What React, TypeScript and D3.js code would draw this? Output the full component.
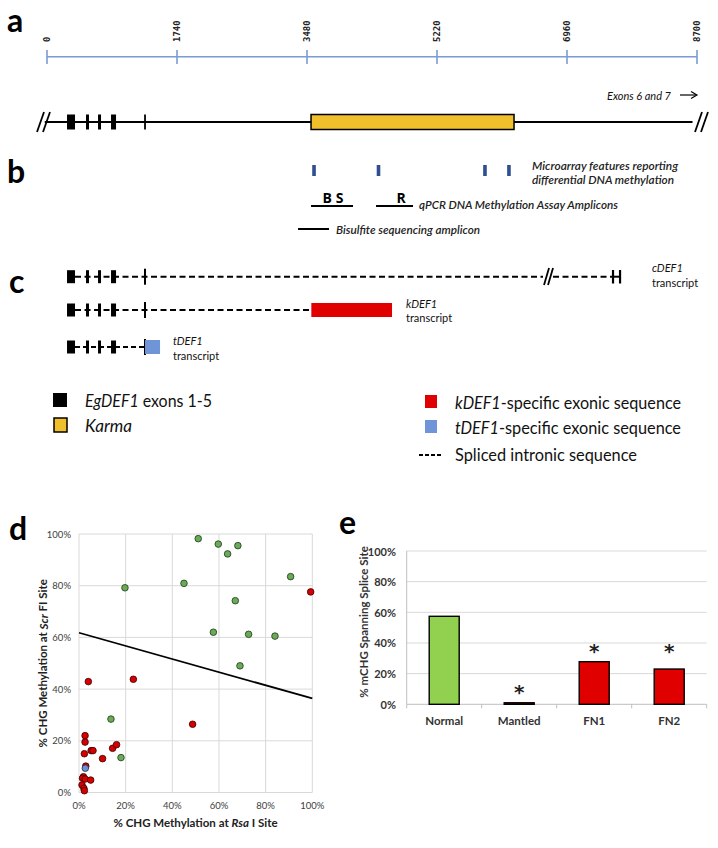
import React from "react";
import * as d3 from "d3";

// ---------- Panel a/b/c data (positions in bp) ----------
const axisTicks = [0, 1740, 3480, 5220, 6960, 8700];
const exonStarts = [268, 522, 683, 857];
const exonEnds = [375, 562, 723, 924];
const exon5Pos = 1312;
const geneSpan = [-30, 8640];
const karmaSpan = [3534, 6251];
const microarrayFeatures = [3574, 4437, 5862, 6183];
const qpcrLabels = ["B S", "R"];
const qpcrStarts = [3534, 4404];
const qpcrEnds = [4096, 4899];
const bisulfiteSpan = [3360, 3775];
const cdefBreak = [6639, 6773];
const cdefEnd = 7562;
const cdefExons67 = [7576, 7670];
const kdefSpecific = [3538, 4618];
const tdefSpecific = [1312, 1513];

// ---------- Panel d data (% CHG methylation) ----------
const greenPoints: [number, number][] = [
  [51.1, 98.2], [59.7, 96.1], [63.7, 92.3], [68.1, 95.5], [19.7, 79.2], [45, 80.9],
  [90.7, 83.5], [67, 74.2], [57.6, 62], [72.7, 61.2], [84, 60.5], [69, 49],
  [13.7, 28.4], [18, 13.5],
];
const redPoints: [number, number][] = [
  [99.3, 77.6], [4, 42.9], [23.3, 43.8], [48.7, 26.4], [2.6, 22], [2.6, 19.5],
  [2.3, 15], [5.2, 16.2], [6, 16.2], [10.1, 13.1], [14.4, 17.1], [16.1, 18.5],
  [2.9, 10.2], [1.9, 6.1], [1.5, 5.5], [2.6, 5.2], [5, 4.8], [1.3, 2.9], [2.1, 1.6], [2.3, 0.7],
];
const bluePoints: [number, number][] = [[2.7, 9.4]];
const trendLine: [number, number][] = [[0, 61.8], [100, 36.4]];
const scatterTicks = [0, 20, 40, 60, 80, 100];

// ---------- Panel e data ----------
const barCategories = ["Normal", "Mantled", "FN1", "FN2"];
const barValues = [57.4, 1, 27.8, 23];
const barColors = ["#92d050", "#e00000", "#e00000", "#e00000"];
const asteriskY = [null, 8, 35, 35];
const barTicks = [0, 20, 40, 60, 80, 100];

const SANS = "Lato, 'Open Sans', sans-serif";

function PanelLetter({ x, y, t }: { x: number; y: number; t: string }) {
  return (
    <text x={x} y={y} fontFamily="Lato, 'Open Sans', sans-serif" fontWeight="bold" fontSize={32} fill="#000">
      {t}
    </text>
  );
}

function ExonRow({ y, xs, endX, dash }: { y: number; xs: d3.ScaleLinear<number, number>; endX: number; dash: string }) {
  const h = 13;
  return (
    <g>
      <line x1={xs(exonEnds[0])} x2={endX} y1={y} y2={y} stroke="#000" strokeWidth={2} strokeDasharray={dash} />
      {exonStarts.map((s, i) => (
        <rect key={i} x={xs(s)} y={y - h / 2} width={xs(exonEnds[i]) - xs(s)} height={h} fill="#000" />
      ))}
      <line x1={xs(exon5Pos)} x2={xs(exon5Pos)} y1={y - 8} y2={y + 8} stroke="#000" strokeWidth={2} />
    </g>
  );
}

export default function App() {
  const xs = d3.scaleLinear().domain([0, 8700]).range([47, 697]);

  // scatter scales
  const sx = d3.scaleLinear().domain([0, 100]).range([79, 312.3]);
  const sy = d3.scaleLinear().domain([0, 100]).range([792.5, 534]);
  const trendPath = d3.line<[number, number]>().x((d) => sx(d[0])).y((d) => sy(d[1]))(trendLine) || "";

  // bar scales
  const bx = d3.scaleBand<string>().domain(barCategories).range([406.7, 706.7]).padding(0);
  const by = d3.scaleLinear().domain([0, 100]).range([704.3, 551]);
  const barW = bx.bandwidth() * 0.4;

  const geneY = 122;
  const dash = "6 3.5";

  return (
    <svg width={718} height={848} style={{ position: "absolute", left: 0, top: 0, background: "#fff" }}>
      <rect x={0} y={0} width={718} height={848} fill="#fff" />

      {/* ---------------- Panel a ---------------- */}
      <PanelLetter x={7} y={32} t="a" />
      <line x1={xs(0)} x2={xs(8700)} y1={56.7} y2={56.7} stroke="#7a9bd6" strokeWidth={1.6} />
      {axisTicks.map((t) => (
        <g key={t}>
          <line x1={xs(t)} x2={xs(t)} y1={50} y2={64} stroke="#7a9bd6" strokeWidth={1.6} />
          <text
            transform={`translate(${xs(t)},42) rotate(-90)`}
            dominantBaseline="central"
            fontFamily="'DejaVu Sans Mono', monospace"
            fontWeight="bold"
            fontSize={9}
            fill="#222"
          >
            {t}
          </text>
        </g>
      ))}
      <text x={607} y={95} dominantBaseline="central" fontFamily={SANS} fontStyle="italic" fontSize={11} fill="#111">
        Exons 6 and 7
      </text>
      <line x1={680} x2={696} y1={95} y2={95} stroke="#000" strokeWidth={1.2} />
      <path d="M691,91.5 L697,95 L691,98.5" fill="none" stroke="#000" strokeWidth={1.2} />

      <line x1={xs(geneSpan[0])} x2={xs(geneSpan[1])} y1={geneY} y2={geneY} stroke="#000" strokeWidth={2} />
      {[37, 43].map((x) => (
        <line key={x} x1={x} y1={132} x2={x + 7} y2={112} stroke="#000" strokeWidth={1.8} />
      ))}
      {[695, 701].map((x) => (
        <line key={x} x1={x} y1={132} x2={x + 7} y2={112} stroke="#000" strokeWidth={1.8} />
      ))}
      {exonStarts.map((s, i) => (
        <rect key={i} x={xs(s)} y={geneY - 7.5} width={xs(exonEnds[i]) - xs(s)} height={15} fill="#000" />
      ))}
      <line x1={xs(exon5Pos)} x2={xs(exon5Pos)} y1={geneY - 7.5} y2={geneY + 7.5} stroke="#000" strokeWidth={1.8} />
      <rect
        x={xs(karmaSpan[0])}
        y={geneY - 7.5}
        width={xs(karmaSpan[1]) - xs(karmaSpan[0])}
        height={15}
        fill="#f0c02c"
        stroke="#000"
        strokeWidth={1.5}
      />

      {/* ---------------- Panel b ---------------- */}
      <PanelLetter x={7} y={183} t="b" />
      {microarrayFeatures.map((p) => (
        <rect key={p} x={xs(p) - 1.8} y={165} width={3.6} height={11} fill="#2f4f8f" />
      ))}
      <text x={532} y={165} dominantBaseline="central" fontFamily={SANS} fontStyle="italic" fontWeight="600" fontSize={11.5} fill="#222" textLength={146} lengthAdjust="spacingAndGlyphs">
        Microarray features reporting
      </text>
      <text x={532} y={179} dominantBaseline="central" fontFamily={SANS} fontStyle="italic" fontWeight="600" fontSize={11.5} fill="#222" textLength={142} lengthAdjust="spacingAndGlyphs">
        differential DNA methylation
      </text>
      {qpcrLabels.map((lab, i) => (
        <g key={lab}>
          <line x1={xs(qpcrStarts[i])} x2={xs(qpcrEnds[i])} y1={206} y2={206} stroke="#000" strokeWidth={2} />
          <text
            x={i === 0 ? 333 : 401}
            y={203}
            textAnchor="middle"
            fontFamily="'Open Sans', sans-serif"
            fontWeight="bold"
            fontSize={14}
            fill="#000"
          >
            {lab}
          </text>
        </g>
      ))}
      <text x={419} y={204} dominantBaseline="central" fontFamily={SANS} fontStyle="italic" fontWeight="600" fontSize={11.5} fill="#222" textLength={199} lengthAdjust="spacingAndGlyphs">
        qPCR DNA Methylation Assay Amplicons
      </text>
      <line x1={xs(bisulfiteSpan[0])} x2={xs(bisulfiteSpan[1])} y1={229} y2={229} stroke="#000" strokeWidth={2} />
      <text x={336} y={229} dominantBaseline="central" fontFamily={SANS} fontStyle="italic" fontWeight="600" fontSize={11.5} fill="#222" textLength={144} lengthAdjust="spacingAndGlyphs">
        Bisulfite sequencing amplicon
      </text>

      {/* ---------------- Panel c ---------------- */}
      <PanelLetter x={9} y={293} t="c" />
      {/* cDEF1 */}
      <ExonRow y={276.7} xs={xs} endX={xs(cdefBreak[0])} dash={dash} />
      <line x1={xs(cdefBreak[1])} x2={xs(cdefEnd)} y1={276.7} y2={276.7} stroke="#000" strokeWidth={2} strokeDasharray={dash} />
      {[xs(cdefBreak[0]) + 1, xs(cdefBreak[0]) + 5].map((x) => (
        <line key={x} x1={x} y1={285} x2={x + 5} y2={268} stroke="#000" strokeWidth={1.8} />
      ))}
      <line x1={xs(cdefExons67[0])} x2={xs(cdefExons67[1])} y1={276.7} y2={276.7} stroke="#000" strokeWidth={2} />
      {cdefExons67.map((p) => (
        <line key={p} x1={xs(p)} x2={xs(p)} y1={270} y2={283.5} stroke="#000" strokeWidth={2.2} />
      ))}
      <text x={652} y={267} dominantBaseline="central" fontFamily={SANS} fontStyle="italic" fontSize={11} fill="#111">
        cDEF1
      </text>
      <text x={652} y={282} dominantBaseline="central" fontFamily={SANS} fontSize={11} fill="#111">
        transcript
      </text>

      {/* kDEF1 */}
      <ExonRow y={310} xs={xs} endX={xs(kdefSpecific[0])} dash={dash} />
      <rect x={xs(kdefSpecific[0])} y={303} width={xs(kdefSpecific[1]) - xs(kdefSpecific[0])} height={14} fill="#e00000" />
      <text x={406} y={303} dominantBaseline="central" fontFamily={SANS} fontStyle="italic" fontSize={11} fill="#111">
        kDEF1
      </text>
      <text x={406} y={317} dominantBaseline="central" fontFamily={SANS} fontSize={11} fill="#111">
        transcript
      </text>

      {/* tDEF1 */}
      <ExonRow y={347} xs={xs} endX={xs(tdefSpecific[0])} dash="5 3" />
      <rect x={xs(tdefSpecific[0])} y={340} width={xs(tdefSpecific[1]) - xs(tdefSpecific[0])} height={14} fill="#6f94d8" />
      <text x={173} y={340} dominantBaseline="central" fontFamily={SANS} fontStyle="italic" fontSize={11} fill="#111">
        tDEF1
      </text>
      <text x={173} y={355} dominantBaseline="central" fontFamily={SANS} fontSize={11} fill="#111">
        transcript
      </text>

      {/* Legend */}
      <rect x={53} y={393} width={14} height={14} fill="#000" />
      <text x={85} y={400} dominantBaseline="central" fontFamily={SANS} fontSize={17} fill="#111" textLength={127} lengthAdjust="spacingAndGlyphs">
        <tspan fontStyle="italic">EgDEF1</tspan> exons 1-5
      </text>
      <rect x={54} y={418} width={13} height={14} fill="#f0c02c" stroke="#000" strokeWidth={1.5} />
      <text x={85} y={425} dominantBaseline="central" fontFamily={SANS} fontStyle="italic" fontSize={17} fill="#111" textLength={47} lengthAdjust="spacingAndGlyphs">
        Karma
      </text>
      <rect x={425} y={395} width={12} height={13} fill="#e00000" />
      <text x={455} y={402} dominantBaseline="central" fontFamily={SANS} fontSize={17} fill="#111" textLength={226} lengthAdjust="spacingAndGlyphs">
        <tspan fontStyle="italic">kDEF1</tspan>-specific exonic sequence
      </text>
      <rect x={425} y={420} width={12} height={13} fill="#6f94d8" />
      <text x={455} y={427} dominantBaseline="central" fontFamily={SANS} fontSize={17} fill="#111" textLength={226} lengthAdjust="spacingAndGlyphs">
        <tspan fontStyle="italic">tDEF1</tspan>-specific exonic sequence
      </text>
      <line x1={419} x2={441} y1={455} y2={455} stroke="#000" strokeWidth={2} strokeDasharray="4 2" />
      <text x={455} y={454} dominantBaseline="central" fontFamily={SANS} fontSize={17} fill="#111" textLength={182} lengthAdjust="spacingAndGlyphs">
        Spliced intronic sequence
      </text>

      {/* ---------------- Panel d (scatter) ---------------- */}
      <PanelLetter x={9} y={540} t="d" />
      {scatterTicks.map((t) => (
        <g key={"g" + t}>
          <line x1={sx(0)} x2={sx(100)} y1={sy(t)} y2={sy(t)} stroke="#d9d9d9" strokeWidth={1} />
          <line x1={sx(t)} x2={sx(t)} y1={sy(0)} y2={sy(100)} stroke="#d9d9d9" strokeWidth={1} />
          <text x={71} y={sy(t)} textAnchor="end" dominantBaseline="central" fontFamily={SANS} fontSize={9.5} fill="#404040">
            {t}%
          </text>
          <text x={sx(t)} y={805} textAnchor="middle" dominantBaseline="central" fontFamily={SANS} fontSize={9.5} fill="#404040">
            {t}%
          </text>
        </g>
      ))}
      <path d={trendPath} stroke="#000" strokeWidth={1.8} fill="none" />
      {greenPoints.map((p, i) => (
        <circle key={"gp" + i} cx={sx(p[0])} cy={sy(p[1])} r={3.3} fill="#6aaa58" stroke="#1d3a17" strokeWidth={0.8} />
      ))}
      {redPoints.map((p, i) => (
        <circle key={"rp" + i} cx={sx(p[0])} cy={sy(p[1])} r={3.3} fill="#d60000" stroke="#3a0000" strokeWidth={0.8} />
      ))}
      {bluePoints.map((p, i) => (
        <circle key={"bp" + i} cx={sx(p[0])} cy={sy(p[1])} r={3.3} fill="#6f8fd0" stroke="#1f2f5a" strokeWidth={0.8} />
      ))}
      <text x={195.5} y={822} textAnchor="middle" dominantBaseline="central" fontFamily={SANS} fontWeight="bold" fontSize={11.5} fill="#222">
        % CHG Methylation at <tspan fontStyle="italic">Rsa</tspan> I Site
      </text>
      <text
        transform={`translate(42.5,${(sy(0) + sy(100)) / 2 + 0}) rotate(-90)`}
        textAnchor="middle"
        dominantBaseline="central"
        fontFamily={SANS}
        fontWeight="bold"
        fontSize={11.5}
        fill="#222"
      >
        % CHG Methylation at <tspan fontStyle="italic">Scr</tspan> FI Site
      </text>

      {/* ---------------- Panel e (bars) ---------------- */}
      <PanelLetter x={339} y={534} t="e" />
      {barTicks.map((t) => (
        <g key={"bt" + t}>
          <line x1={406.7} x2={706.7} y1={by(t)} y2={by(t)} stroke={t === 0 ? "#bfbfbf" : "#d9d9d9"} strokeWidth={1} />
          <text x={396} y={by(t)} textAnchor="end" dominantBaseline="central" fontFamily={SANS} fontWeight="bold" fontSize={11} fill="#333">
            {t}%
          </text>
        </g>
      ))}
      <line x1={406.7} x2={406.7} y1={by(100)} y2={by(0)} stroke="#bfbfbf" strokeWidth={1} />
      {[...barCategories.map((c) => bx(c) as number), 706.7].map((x, i) => (
        <line key={"tk" + i} x1={x} x2={x} y1={by(0)} y2={by(0) + 4} stroke="#bfbfbf" strokeWidth={1} />
      ))}
      {barCategories.map((c, i) => {
        const cx = (bx(c) as number) + bx.bandwidth() / 2;
        return (
          <g key={c}>
            <rect
              x={cx - barW / 2}
              y={by(barValues[i])}
              width={barW}
              height={by(0) - by(barValues[i])}
              fill={barColors[i]}
              stroke="#000"
              strokeWidth={1.4}
            />
            <text x={cx} y={720} textAnchor="middle" dominantBaseline="central" fontFamily={SANS} fontWeight="bold" fontSize={11.5} fill="#333">
              {c}
            </text>
            {asteriskY[i] !== null && (
              <text x={cx} y={by(asteriskY[i] as number) + 7} textAnchor="middle" fontFamily="'DejaVu Sans', sans-serif" fontWeight="bold" fontSize={20} fill="#222">
                *
              </text>
            )}
          </g>
        );
      })}
      <text
        transform={`translate(363,622) rotate(-90)`}
        textAnchor="middle"
        dominantBaseline="central"
        fontFamily={SANS}
        fontWeight="bold"
        fontSize={11.5}
        fill="#333"
      >
        % mCHG Spanning Splice Site
      </text>
    </svg>
  );
}
